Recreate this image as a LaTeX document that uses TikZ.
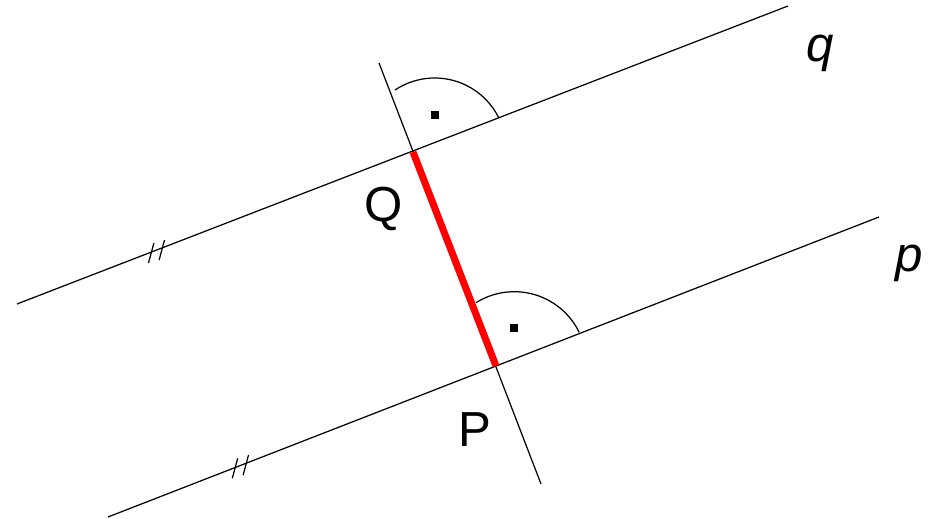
\documentclass[tikz,border=0pt]{standalone}
\usepackage{fontspec}
\setmainfont{Liberation Sans}

\begin{document}
\begin{tikzpicture}[
		x=0.02cm, y=0.02cm,
		line/.style={line width=0.7pt},
		dist/.style={line width=4pt, red},
		rangle/.style={line width=0.7pt},
		rdot/.style={fill, inner sep=0pt, minimum size=0.16cm},
		tick/.style={line width=0.7pt},
		lbl/.style={font=\fontsize{28}{34}\selectfont, anchor=base},
		lblit/.style={font=\fontsize{28}{34}\selectfont\itshape, anchor=base}
	]
		\useasboundingbox (0,0) rectangle (936,519);

		% feet of the perpendicular
		\coordinate (Q) at (413,367);
		\coordinate (P) at (496,153);

		% ends of the lines
		\coordinate (q1) at (17,215);
		\coordinate (q2) at (788,513);
		\coordinate (p1) at (108,2);
		\coordinate (p2) at (879,302);
		\coordinate (n1) at (379,456);
		\coordinate (n2) at (541,35);

		\draw[line] (q1) -- (q2);
		\draw[line] (p1) -- (p2);
		\draw[line] (n1) -- (n2);
		\draw[dist] (Q) -- (P);

		% right angles
		\draw[rangle] ([shift={(21.7,2.5)}]Q) ++(123.7:71.5) arc[start angle=123.7, end angle=26.1, radius=71.5];
		\draw[rangle] ([shift={(18.3,2.1)}]P) ++(122:72.2) arc[start angle=122, end angle=25.9, radius=72.2];
		\node[rdot] (dotQ) at (435,404) {};
		\node[rdot] (dotP) at (514,191) {};

		% parallel marks
		\foreach \cx/\cy in {151.2/266, 161.8/268.9, 235/50.7, 245.8/53.9}
			\draw[tick] (\cx-2.7,\cy-10) -- (\cx+2.7,\cy+10);

		\node[lbl] (labQ) at (384,297) {Q};
		\node[lbl] (labP) at (475,72) {P};
		\node[lblit] (labq) at (820,457) {q};
		\node[lblit] (labp) at (909,247) {p};
	\end{tikzpicture}
\end{document}
